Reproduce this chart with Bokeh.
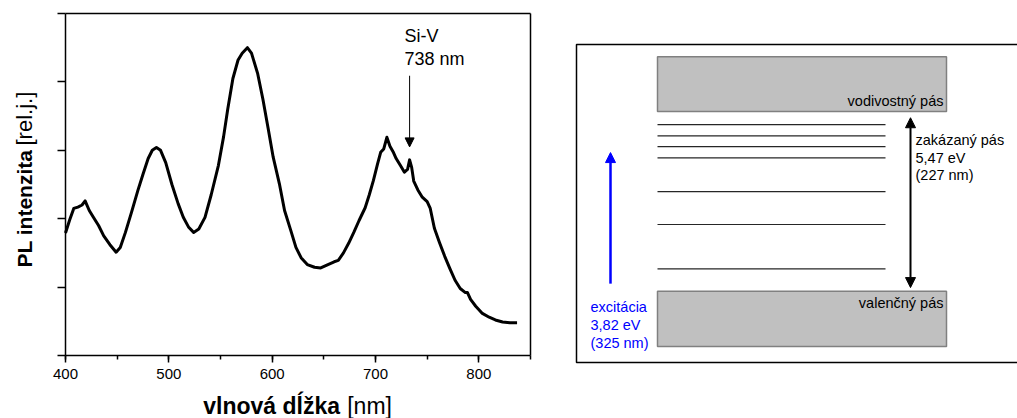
import math
from bokeh.plotting import figure
from bokeh.models import (Label, Arrow, NormalHead, FixedTicker, SingleIntervalTicker,
                          Range1d, CustomJSTickFormatter, LinearAxis)
from bokeh.embed import file_html
from bokeh.resources import INLINE

# ---------------- data: PL spectrum ----------------
wavelength_nm = [400, 404, 408, 412, 416, 419, 423, 427, 432, 437, 443, 449, 453, 458, 464,
                 470, 475, 480, 484, 488, 492, 497, 503, 509, 514, 519, 524, 529, 535, 541,
                 548, 553, 557, 562, 567, 571, 576, 580, 586, 591, 596, 601, 607, 612, 618,
                 623, 628, 634, 641, 647, 654, 660, 664, 669, 674, 679, 684, 690, 694, 698,
                 702, 705, 708, 711, 714, 717, 720, 724, 728, 731, 733, 735, 737, 741, 745,
                 750, 753, 757, 762, 767, 772, 777, 782, 787, 789, 792, 797, 803, 810, 816,
                 823, 830, 837]
pl_intensity = [1.79, 1.98, 2.15, 2.17, 2.20, 2.26, 2.12, 2.02, 1.90, 1.75, 1.62, 1.51, 1.58, 1.80, 2.10,
                2.41, 2.65, 2.88, 3.00, 3.04, 3.00, 2.82, 2.50, 2.22, 2.02, 1.88, 1.80, 1.85, 2.02, 2.35,
                2.78, 3.20, 3.60, 4.05, 4.32, 4.42, 4.50, 4.42, 4.12, 3.75, 3.33, 2.90, 2.51, 2.12, 1.83,
                1.58, 1.43, 1.33, 1.29, 1.28, 1.33, 1.37, 1.39, 1.50, 1.64, 1.80, 1.97, 2.16, 2.35, 2.56,
                2.80, 2.97, 3.02, 3.19, 3.06, 2.98, 2.88, 2.78, 2.68, 2.72, 2.86, 2.75, 2.55, 2.42, 2.32,
                2.25, 2.15, 1.86, 1.65, 1.45, 1.27, 1.10, 0.98, 0.92, 0.92, 0.82, 0.72, 0.62, 0.56, 0.52,
                0.49, 0.48, 0.48]
x_bounds = (400, 850)
y_bounds = (0, 5)
y_ticks = [0, 1, 2, 3, 4, 5]
siv_lines = ["Si-V", "738 nm"]
siv_peak_nm = 733
siv_arrow_top = 4.09
siv_arrow_tip = 3.05

# ---------------- data: band diagram (eV, relative to valence band top) ----------------
band_names = ["vodivostný pás", "valenčný pás"]
band_lower = [5.47, -1.68]
band_upper = [7.14, 0.00]
defect_levels_eV = [5.07, 4.73, 4.40, 4.06, 3.03, 2.03, 0.68]
gap_lines = ["zakázaný pás", "5,47 eV", "(227 nm)"]
exc_lines = ["excitácia", "3,82 eV", "(325 nm)"]

FONT = "Liberation Sans"
W, H = 1017, 418

# one canvas-filling frame; spectrum axes are placed at fixed locations inside it
p = figure(width=W, height=H, x_range=Range1d(337.1, 1321.3), y_range=Range1d(-0.921, 5.19),
           output_backend="svg", toolbar_location=None, title_location=None,
           min_border=0, x_axis_type=None, y_axis_type=None)
p.grid.visible = False
p.outline_line_color = None
p.background_fill_color = "white"
p.border_fill_color = "white"

# diagram coordinate system (x: px from box left, y: eV)
p.extra_x_ranges = {"dx": Range1d(-576, 441)}
p.extra_y_ranges = {"dy": Range1d(-3.875, 8.849)}

# ================= spectrum =================
p.line(wavelength_nm, pl_intensity, line_width=3, line_color="black", line_join="round")


def style(ax):
    ax.axis_line_color = "black"
    ax.axis_line_width = 1.5
    ax.major_tick_line_color = "black"
    ax.major_tick_line_width = 1.5
    ax.minor_tick_line_color = "black"
    ax.minor_tick_line_width = 1.5
    ax.major_tick_in = 0
    ax.minor_tick_in = 0
    ax.major_label_text_font = FONT
    ax.major_label_text_font_size = "15px"
    ax.major_label_text_color = "black"


xax = LinearAxis(ticker=SingleIntervalTicker(interval=100, num_minor_ticks=2),
                 fixed_location=y_bounds[0], bounds=x_bounds)
style(xax)
xax.major_tick_out = 7
xax.minor_tick_out = 4
xax.major_label_standoff = 6
p.add_layout(xax, "below")

yax = LinearAxis(ticker=FixedTicker(ticks=y_ticks, minor_ticks=[]),
                 formatter=CustomJSTickFormatter(code="return ''"),
                 fixed_location=x_bounds[0], bounds=y_bounds)
style(yax)
yax.major_tick_out = 8
p.add_layout(yax, "left")

# top and right frame lines
tax = LinearAxis(ticker=FixedTicker(ticks=[]), fixed_location=y_bounds[1], bounds=x_bounds,
                 formatter=CustomJSTickFormatter(code="return ''"))
style(tax)
p.add_layout(tax, "above")
rax = LinearAxis(ticker=FixedTicker(ticks=[]), fixed_location=x_bounds[1], bounds=y_bounds,
                 formatter=CustomJSTickFormatter(code="return ''"))
style(rax)
p.add_layout(rax, "right")

# Si-V annotation
for i, t in enumerate(siv_lines):
    p.add_layout(Label(x=728, y=4.67 - 0.34 * i, text=t, text_font=FONT,
                       text_font_size="18px", text_color="black", text_baseline="alphabetic"))
p.add_layout(Arrow(end=NormalHead(size=9, fill_color="black", line_color="black", line_width=1),
                   x_start=siv_peak_nm, y_start=siv_arrow_top, x_end=siv_peak_nm, y_end=siv_arrow_tip,
                   line_color="black", line_width=1))

# axis titles (mixed bold / normal), screen units from canvas bottom-left
p.add_layout(Label(x=202.7, y=13, x_units="screen", y_units="screen", text="vlnová dĺžka",
                   text_font=FONT, text_font_style="bold", text_font_size="23px",
                   text_color="black", text_baseline="alphabetic"))
p.add_layout(Label(x=346.7, y=13, x_units="screen", y_units="screen", text="[nm]",
                   text_font=FONT, text_font_size="23px",
                   text_color="black", text_baseline="alphabetic"))
p.add_layout(Label(x=23.5, y=151, x_units="screen", y_units="screen", angle=math.pi / 2,
                   text="PL intenzita", text_font=FONT, text_font_style="bold",
                   text_font_size="21px", text_color="black", text_baseline="alphabetic"))
p.add_layout(Label(x=23.5, y=273, x_units="screen", y_units="screen", angle=math.pi / 2,
                   text="[rel.j.]", text_font=FONT, text_font_size="22px",
                   text_color="black", text_baseline="alphabetic"))

# ================= band diagram =================
D = dict(x_range_name="dx", y_range_name="dy")

# surrounding box (right edge runs off the page)
p.quad(left=[0], right=[470], bottom=[-2.17], top=[7.51], fill_color=None,
       line_color="black", line_width=1.5, **D)

# bands
p.quad(left=81, right=370, bottom=band_lower, top=band_upper,
       fill_color="#c0c0c0", line_color="#808080", line_width=1.5, **D)
# defect levels
p.segment(x0=81, y0=defect_levels_eV, x1=309, y1=defect_levels_eV,
          line_color="#262626", line_width=1.2, **D)

# band labels
p.add_layout(Label(x=367, y=5.78, text=band_names[0], text_align="right", text_font=FONT,
                   text_font_size="14.5px", text_color="black", text_baseline="alphabetic", **D))
p.add_layout(Label(x=367, y=-0.36, text=band_names[1], text_align="right", text_font=FONT,
                   text_font_size="14.5px", text_color="black", text_baseline="alphabetic", **D))

# band gap double arrow
p.add_layout(Arrow(start=NormalHead(size=10, fill_color="black", line_color="black"),
                   end=NormalHead(size=10, fill_color="black", line_color="black"),
                   x_start=334, y_start=0.11, x_end=334, y_end=5.28,
                   line_color="black", line_width=2, **D))
for i, t in enumerate(gap_lines):
    p.add_layout(Label(x=339, y=4.59 - 0.53 * i, text=t, text_font=FONT,
                       text_font_size="14.5px", text_color="black", text_baseline="alphabetic", **D))

# excitation arrow
p.add_layout(Arrow(end=NormalHead(size=10, fill_color="blue", line_color="blue"),
                   x_start=34, y_start=0.23, x_end=34, y_end=4.22,
                   line_color="blue", line_width=2.5, **D))
for i, t in enumerate(exc_lines):
    p.add_layout(Label(x=14, y=-0.49 - 0.54 * i, text=t, text_font=FONT,
                       text_font_size="14.5px", text_color="blue", text_baseline="alphabetic", **D))

open("out.html", "w").write(file_html(p, INLINE))
